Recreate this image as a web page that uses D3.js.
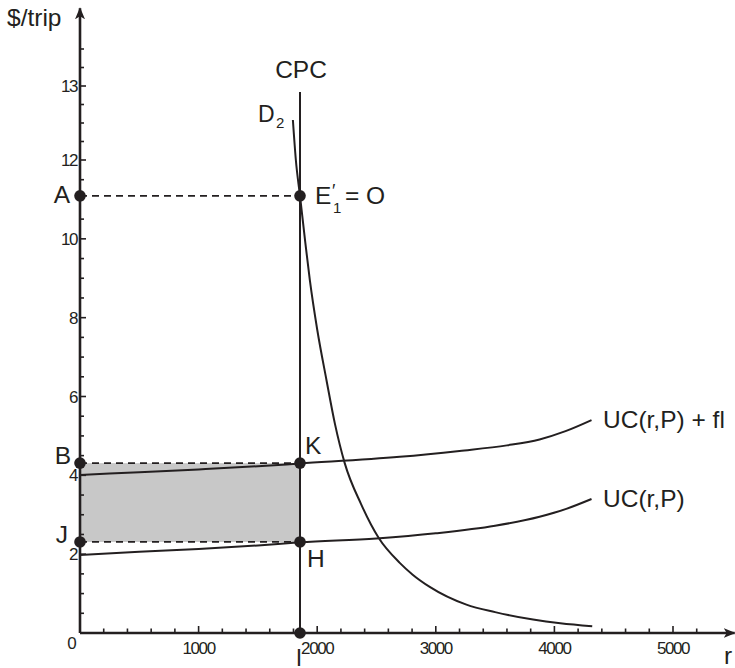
<!DOCTYPE html>
<html>
<head>
<meta charset="utf-8">
<script src="https://cdn.jsdelivr.net/npm/d3@7/dist/d3.min.js"></script>
<style>
  html, body { margin: 0; padding: 0; background: #fff; }
  svg { display: block; }
  text { font-family: "Liberation Sans", Arial, Helvetica, sans-serif; fill: #231f20; }
</style>
</head>
<body>
<svg id="chart" width="735" height="668"></svg>
<script>
// ---------- data ----------
const xTickValues = [1000, 2000, 3000, 4000, 5000];
const xTickLabels = ["1000", "2000", "3000", "4000", "5000"];
const xMinorTicks = [200,400,600,800,1200,1400,1600,1800,2200,2400,2600,2800,3200,3400,3600,3800,4200,4400,4600,4800,5200];
const yTickValues = [2, 4, 6, 8, 10, 12, 13];
const yTickLabels = ["2", "4", "6", "8", "10", "12", "13"];
const yMinorTicks = [0.5,1,1.5,2.5,3,3.5,4.5,5,5.5,6.5,7,7.5,8.5,9,9.5,10.5,11,11.5,12.25,12.5,12.75,13.25,13.5];

// UC(r,P)
const ucR = [0, 500, 1000, 1500, 1855, 2500, 3000, 3500, 3875, 4100, 4313];
const ucV = [1.98, 2.06, 2.13, 2.22, 2.30, 2.40, 2.53, 2.72, 2.95, 3.15, 3.40];
// UC(r,P) + fl
const ucflR = [0, 500, 1000, 1500, 1855, 2696, 3200, 3600, 3875, 4094, 4313];
const ucflV = [4.01, 4.08, 4.15, 4.23, 4.30, 4.47, 4.62, 4.76, 4.91, 5.12, 5.40];
// D2 demand curve
const d2R = [1795, 1820, 1855, 1900, 1938, 2000, 2078, 2150, 2232, 2370, 2519, 2696, 2805, 2949, 3258, 3500, 3820, 4050, 4319];
const d2V = [12.54, 12.0, 11.09, 9.9, 8.95, 7.7, 6.42, 5.3, 4.31, 3.27, 2.41, 1.78, 1.48, 1.17, 0.72, 0.53, 0.34, 0.245, 0.17];

const cpcR = 1855;     // CPC capacity
const cpcTop = 12.92;
const valA = 11.09;    // A / E1'
const valB = 4.31;     // B / K
const valJ = 2.31;     // J / H
const rMax = 5520;     // x axis arrow end
const vMax = 14.05;    // y axis arrow end

// ---------- scales ----------
const x = d3.scaleLinear().domain([0, 5000]).range([80, 673]);
const y = d3.scaleLinear().domain([0, 12, 14]).range([633, 160, 12]);

const svg = d3.select("#chart");
const ink = "#231f20";

// shaded rectangle
svg.append("rect")
  .attr("x", x(0)).attr("y", y(valB))
  .attr("width", x(cpcR) - x(0)).attr("height", y(valJ) - y(valB))
  .attr("fill", "#c8c8c8");

// dashed guides
const dashed = [valA, valB, valJ];
svg.selectAll("line.dash").data(dashed).enter().append("line")
  .attr("class", "dash")
  .attr("x1", x(0)).attr("x2", x(cpcR))
  .attr("y1", d => y(d)).attr("y2", d => y(d))
  .attr("stroke", ink).attr("stroke-width", 1.8)
  .attr("stroke-dasharray", "7,5");

// arrow marker
const defs = svg.append("defs");
defs.append("marker").attr("id", "arr").attr("viewBox", "0 0 12 10")
  .attr("refX", 11).attr("refY", 5).attr("markerWidth", 12).attr("markerHeight", 10)
  .attr("markerUnits", "userSpaceOnUse").attr("orient", "auto")
  .append("path").attr("d", "M0,0 L12,5 L0,10 L3,5 Z").attr("fill", ink);

// axes lines
svg.append("line").attr("x1", x(0)).attr("y1", y(0)).attr("x2", x(0)).attr("y2", y(vMax))
  .attr("stroke", ink).attr("stroke-width", 2.6).attr("marker-end", "url(#arr)");
svg.append("line").attr("x1", x(0)).attr("y1", y(0)).attr("x2", x(rMax)).attr("y2", y(0))
  .attr("stroke", ink).attr("stroke-width", 2.6).attr("marker-end", "url(#arr)");

// x ticks (pointing up)
svg.selectAll("line.xmin").data(xMinorTicks).enter().append("line")
  .attr("x1", d => x(d)).attr("x2", d => x(d))
  .attr("y1", y(0)).attr("y2", y(0) - 4.5)
  .attr("stroke", ink).attr("stroke-width", 1.6);
svg.selectAll("line.xmaj").data(xTickValues).enter().append("line")
  .attr("x1", d => x(d)).attr("x2", d => x(d))
  .attr("y1", y(0)).attr("y2", y(0) - 7)
  .attr("stroke", ink).attr("stroke-width", 1.6);
svg.selectAll("text.xl").data(xTickValues).enter().append("text")
  .attr("x", d => x(d)).attr("y", 654)
  .attr("text-anchor", "middle").attr("font-size", 17).attr("letter-spacing", -1.4)
  .text((d, i) => xTickLabels[i]);

// y ticks (pointing right)
svg.selectAll("line.ymin").data(yMinorTicks).enter().append("line")
  .attr("x1", x(0)).attr("x2", x(0) + 4)
  .attr("y1", d => y(d)).attr("y2", d => y(d))
  .attr("stroke", ink).attr("stroke-width", 1.6);
svg.selectAll("line.ymaj").data(yTickValues).enter().append("line")
  .attr("x1", x(0)).attr("x2", x(0) + 6)
  .attr("y1", d => y(d)).attr("y2", d => y(d))
  .attr("stroke", ink).attr("stroke-width", 1.6);
svg.selectAll("text.yl").data(yTickValues).enter().append("text")
  .attr("x", 77).attr("y", d => y(d) + 6)
  .attr("text-anchor", "end").attr("font-size", 17).attr("letter-spacing", -1.4)
  .text((d, i) => yTickLabels[i]);
svg.append("text").attr("x", 72).attr("y", 649).attr("text-anchor", "middle")
  .attr("font-size", 17).text("0");

// CPC vertical line
svg.append("line").attr("x1", x(cpcR)).attr("x2", x(cpcR))
  .attr("y1", y(0)).attr("y2", y(cpcTop))
  .attr("stroke", ink).attr("stroke-width", 2);

// curves
const line = d3.line().x(d => x(d[0])).y(d => y(d[1])).curve(d3.curveMonotoneX);
const series = [
  d3.zip(ucR, ucV),
  d3.zip(ucflR, ucflV),
  d3.zip(d2R, d2V)
];
svg.selectAll("path.curve").data(series).enter().append("path")
  .attr("d", line).attr("fill", "none").attr("stroke", ink).attr("stroke-width", 2);

// points
const pts = [[0, valA], [cpcR, valA], [0, valB], [cpcR, valB], [0, valJ], [cpcR, valJ], [cpcR, 0]];
svg.selectAll("circle.pt").data(pts).enter().append("circle")
  .attr("cx", d => x(d[0])).attr("cy", d => y(d[1])).attr("r", 5.8).attr("fill", ink);

// labels
const fs = 24.5;
function lab(t, px, py, anchor, size) {
  return svg.append("text").attr("x", px).attr("y", py)
    .attr("text-anchor", anchor || "start").attr("font-size", size || fs).text(t);
}
lab("$/trip", 7, 26);
lab("r", 724, 664);
lab("CPC", x(cpcR) + 1, 78, "middle");
lab("D", 258, 122, "start", 23);
lab("2", 276, 128, "start", 15);
lab("E", 315, 204);
lab("\u2032", 332, 197, "start", 18);
lab("1", 333, 213, "start", 15);
lab("= O", 345, 204);
lab("A", 70, 203, "end");
lab("B", 71, 464, "end");
lab("J", 68, 543, "end");
lab("K", 305, 454);
lab("H", 307, 567);
lab("I", x(cpcR) - 1, 666, "middle", 23);
lab("UC(r,P) + fl", 603, 428);
lab("UC(r,P)", 603, 507);
</script>
</body>
</html>
